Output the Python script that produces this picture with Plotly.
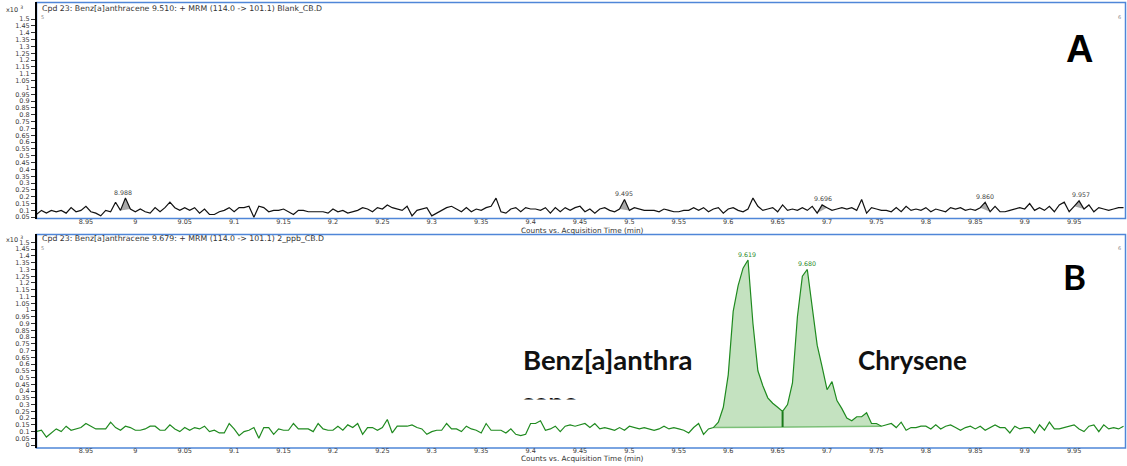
import numpy as np
import plotly.graph_objects as go

W, H = 1127, 466

# ---------------- data ----------------
time_start = 8.900
time_step = 0.005

# Panel A: Blank_CB.D  (counts x10^3)
counts_blank = [
    0.07, 0.10, 0.08, 0.10, 0.09, 0.10, 0.08, 0.12, 0.09, 0.10,
    0.13, 0.09, 0.08, 0.06, 0.10, 0.09, 0.16, 0.10, 0.19, 0.11,
    0.09, 0.11, 0.09, 0.08, 0.12, 0.09, 0.12, 0.16, 0.12, 0.10,
    0.12, 0.10, 0.12, 0.08, 0.11, 0.07, 0.07, 0.09, 0.10, 0.12,
    0.09, 0.12, 0.12, 0.13, 0.05, 0.13, 0.12, 0.09, 0.10, 0.10,
    0.11, 0.09, 0.07, 0.10, 0.10, 0.09, 0.09, 0.09, 0.09, 0.08,
    0.11, 0.09, 0.10, 0.08, 0.09, 0.10, 0.12, 0.11, 0.09, 0.12,
    0.11, 0.14, 0.12, 0.11, 0.10, 0.13, 0.06, 0.10, 0.11, 0.12,
    0.06, 0.08, 0.10, 0.12, 0.13, 0.11, 0.09, 0.12, 0.09, 0.11,
    0.10, 0.12, 0.13, 0.19, 0.09, 0.08, 0.11, 0.12, 0.09, 0.12,
    0.11, 0.11, 0.10, 0.12, 0.08, 0.12, 0.09, 0.12, 0.10, 0.12,
    0.13, 0.09, 0.11, 0.08, 0.11, 0.12, 0.10, 0.09, 0.11, 0.18,
    0.10, 0.12, 0.11, 0.10, 0.10, 0.10, 0.09, 0.11, 0.10, 0.09,
    0.09, 0.10, 0.10, 0.12, 0.10, 0.12, 0.09, 0.11, 0.12, 0.08,
    0.11, 0.12, 0.10, 0.09, 0.11, 0.19, 0.13, 0.10, 0.11, 0.12,
    0.09, 0.14, 0.10, 0.11, 0.10, 0.12, 0.10, 0.13, 0.08, 0.14,
    0.12, 0.10, 0.11, 0.12, 0.11, 0.12, 0.10, 0.18, 0.08, 0.12,
    0.11, 0.10, 0.10, 0.09, 0.12, 0.09, 0.13, 0.10, 0.11, 0.10,
    0.12, 0.09, 0.11, 0.10, 0.09, 0.12, 0.11, 0.12, 0.10, 0.11,
    0.10, 0.12, 0.16, 0.09, 0.13, 0.09, 0.09, 0.10, 0.11, 0.12,
    0.11, 0.15, 0.10, 0.12, 0.10, 0.13, 0.09, 0.14, 0.16, 0.09,
    0.13, 0.17, 0.11, 0.14, 0.09, 0.12, 0.11, 0.10, 0.11, 0.12,
    0.12,
]

# Panel B: 2_ppb_CB.D  (counts x10^3)
counts_2ppb = [
    0.10, 0.11, 0.06, 0.09, 0.12, 0.10, 0.14, 0.11, 0.12, 0.13,
    0.16, 0.14, 0.12, 0.12, 0.12, 0.17, 0.13, 0.11, 0.14, 0.13,
    0.11, 0.11, 0.12, 0.14, 0.14, 0.11, 0.11, 0.15, 0.12, 0.10,
    0.13, 0.11, 0.13, 0.12, 0.14, 0.10, 0.11, 0.09, 0.09, 0.16,
    0.12, 0.07, 0.10, 0.11, 0.13, 0.05, 0.13, 0.13, 0.08, 0.12,
    0.11, 0.11, 0.16, 0.12, 0.12, 0.12, 0.10, 0.16, 0.12, 0.11,
    0.11, 0.14, 0.11, 0.15, 0.13, 0.16, 0.08, 0.13, 0.13, 0.11,
    0.13, 0.19, 0.09, 0.14, 0.14, 0.14, 0.15, 0.13, 0.12, 0.08,
    0.10, 0.11, 0.11, 0.16, 0.12, 0.12, 0.10, 0.14, 0.12, 0.11,
    0.09, 0.16, 0.11, 0.11, 0.11, 0.09, 0.12, 0.08, 0.07, 0.08,
    0.16, 0.16, 0.18, 0.11, 0.12, 0.14, 0.10, 0.14, 0.15, 0.14,
    0.15, 0.16, 0.13, 0.16, 0.12, 0.13, 0.12, 0.11, 0.13, 0.11,
    0.14, 0.13, 0.12, 0.13, 0.12, 0.11, 0.12, 0.14, 0.12, 0.13,
    0.12, 0.11, 0.09, 0.13, 0.16, 0.08, 0.12, 0.13, 0.17, 0.28,
    0.52, 0.99, 1.18, 1.31, 1.37, 0.90, 0.55, 0.44, 0.35, 0.31,
    0.28, 0.25, 0.30, 0.46, 0.95, 1.25, 1.30, 1.00, 0.74, 0.58,
    0.41, 0.47, 0.33, 0.27, 0.20, 0.18, 0.21, 0.21, 0.24, 0.16,
    0.16, 0.14, 0.15, 0.16, 0.13, 0.17, 0.11, 0.13, 0.13, 0.14,
    0.14, 0.12, 0.15, 0.12, 0.14, 0.15, 0.13, 0.11, 0.13, 0.14,
    0.12, 0.14, 0.11, 0.13, 0.15, 0.13, 0.13, 0.09, 0.14, 0.12,
    0.13, 0.13, 0.09, 0.15, 0.11, 0.17, 0.12, 0.12, 0.13, 0.14,
    0.15, 0.12, 0.10, 0.14, 0.15, 0.10, 0.15, 0.12, 0.13, 0.12,
    0.14,
]

peak_times_blank = [8.988, 9.495, 9.696, 9.860, 9.957]
peak_times_2ppb = [9.619, 9.680]
integration_2ppb = [9.585, 9.655, 9.755]   # start, split, end

x_tick_labels = ["8.95", "9", "9.05", "9.1", "9.15", "9.2", "9.25", "9.3", "9.35", "9.4",
                 "9.45", "9.5", "9.55", "9.6", "9.65", "9.7", "9.75", "9.8", "9.85", "9.9", "9.95"]
y_tick_labels_a = ["0.05", "0.1", "0.15", "0.2", "0.25", "0.3", "0.35", "0.4", "0.45", "0.5",
                   "0.55", "0.6", "0.65", "0.7", "0.75", "0.8", "0.85", "0.9", "0.95", "1",
                   "1.05", "1.1", "1.15", "1.2", "1.25", "1.3", "1.35", "1.4", "1.45", "1.5"]
y_tick_labels_b = ["0"] + y_tick_labels_a

title_blank = "Cpd 23: Benz[a]anthracene 9.510: + MRM (114.0 -> 101.1) Blank_CB.D"
title_2ppb = "Cpd 23: Benz[a]anthracene 9.679: + MRM (114.0 -> 101.1) 2_ppb_CB.D"
x_title = "Counts vs. Acquisition Time (min)"
name_first = "Benz[a]anthra"
name_first_cut = "cene"
name_second = "Chrysene"
panel_labels = ["A", "B"]

# ---------------- helpers ----------------
def px(x):
    return x / W


def py(y):
    return 1 - y / H


t_a = time_start + time_step * np.arange(len(counts_blank))
t_b = time_start + time_step * np.arange(len(counts_2ppb))
v_a = np.array(counts_blank)
v_b = np.array(counts_2ppb)


def idx(t):
    return int(round((t - time_start) / time_step))


TICKFONT = dict(family="DejaVu Sans", size=6.5, color="#3a3a3a")
LINE_GREEN = "#1f8a1f"

fig = go.Figure()

# ---- Panel A fills (gray integrated peaks) ----
for tp in peak_times_blank:
    k = idx(tp)
    xs = list(t_a[k - 1:k + 2])
    ys = list(v_a[k - 1:k + 2])
    fig.add_trace(go.Scatter(x=xs + [xs[0]], y=ys + [ys[0]], fill="toself",
                             fillcolor="#a9a9a9", line=dict(width=0), mode="lines",
                             hoverinfo="skip", xaxis="x", yaxis="y"))

fig.add_trace(go.Scatter(x=t_a, y=v_a, mode="lines", line=dict(color="#111111", width=1.2),
                         xaxis="x", yaxis="y"))

# ---- Panel B fill ----
k0, k1, k2 = idx(integration_2ppb[0]), idx(integration_2ppb[1]), idx(integration_2ppb[2])


def base(t):
    return v_b[k0] + (v_b[k2] - v_b[k0]) * (t - t_b[k0]) / (t_b[k2] - t_b[k0])


fx = list(t_b[k0:k2 + 1]) + [t_b[k2], t_b[k0]]
fy = list(v_b[k0:k2 + 1]) + [base(t_b[k2]), base(t_b[k0])]
fig.add_trace(go.Scatter(x=fx, y=fy, fill="toself", fillcolor="#c4e2c0",
                         line=dict(width=0), mode="lines", hoverinfo="skip",
                         xaxis="x2", yaxis="y2"))
fig.add_trace(go.Scatter(x=[t_b[k0], t_b[k2]], y=[base(t_b[k0]), base(t_b[k2])], mode="lines",
                         line=dict(color="#7cc078", width=1.5), xaxis="x2", yaxis="y2"))
fig.add_trace(go.Scatter(x=t_b, y=v_b, mode="lines", line=dict(color=LINE_GREEN, width=1.2),
                         xaxis="x2", yaxis="y2"))
fig.add_trace(go.Scatter(x=[t_b[k1], t_b[k1]], y=[base(t_b[k1]), v_b[k1]], mode="lines",
                         line=dict(color="#1a7a1a", width=2), xaxis="x2", yaxis="y2"))

# ---- clipped second line of the compound label ----
fig.add_trace(go.Scatter(x=[521], y=[407.5], mode="text", text=[f"<b>{name_first_cut}</b>"],
                         textposition="middle right", cliponaxis=True,
                         textfont=dict(family="Lato", size=27, color="#111111"),
                         xaxis="x3", yaxis="y3", hoverinfo="skip"))

x_tick_vals = [float(s) for s in x_tick_labels]
xr = [8.9005, 10.0015]

common_x = dict(range=xr, tickvals=x_tick_vals, ticktext=x_tick_labels, ticks="",
                tickfont=TICKFONT, showgrid=False, zeroline=False, showline=False,
                domain=[px(37), px(1125)])
common_y = dict(showgrid=False, zeroline=False, showline=True, linecolor="#000000",
                linewidth=2, ticks="outside", ticklen=4, tickcolor="#333333", tickwidth=1,
                tickfont=TICKFONT)

fig.update_layout(
    width=W, height=H, margin=dict(l=0, r=0, t=0, b=0),
    paper_bgcolor="white", plot_bgcolor="rgba(0,0,0,0)", showlegend=False,
    xaxis=dict(anchor="free", position=py(218), **common_x),
    yaxis=dict(anchor="x", domain=[py(220), py(2.5)], range=[0.04, 1.622],
               tickvals=[float(s) for s in y_tick_labels_a], ticktext=y_tick_labels_a, **common_y),
    xaxis2=dict(anchor="free", position=py(448.5), **common_x),
    yaxis2=dict(anchor="x2", domain=[py(451), py(236)], range=[-0.022, 1.559],
                tickvals=[float(s) for s in y_tick_labels_b], ticktext=y_tick_labels_b, **common_y),
    xaxis3=dict(anchor="y3", domain=[px(500), px(720)], range=[500, 720], visible=False),
    yaxis3=dict(anchor="x3", domain=[py(402), py(375)], range=[402, 375], visible=False),
)

# frames
FRAME = "#4f86d8"
fig.add_shape(type="rect", xref="paper", yref="paper", x0=px(36.5), x1=px(1125.5),
              y0=py(220), y1=py(2.5), line=dict(color=FRAME, width=1.5), layer="below")
fig.add_shape(type="rect", xref="paper", yref="paper", x0=px(36.5), x1=px(1125.5),
              y0=py(451), y1=py(236), line=dict(color=FRAME, width=1.5), layer="below")

ann = []
# titles and exponent labels
for title, ytop in [(title_blank, 8.5), (title_2ppb, 240.5)]:
    ann.append(dict(text=title, xref="paper", yref="paper", x=px(40), y=py(ytop),
                    xanchor="left", yanchor="middle", showarrow=False,
                    font=dict(family="DejaVu Sans", size=7.8, color="#333333")))
    ann.append(dict(text="x10 <sup>3</sup>", xref="paper", yref="paper", x=px(4), y=py(ytop + 1),
                    xanchor="left", yanchor="middle", showarrow=False,
                    font=dict(family="DejaVu Sans", size=6.5, color="#333333")))
    ann.append(dict(text="5", xref="paper", yref="paper", x=px(39), y=py(ytop + 9),
                    xanchor="left", yanchor="middle", showarrow=False,
                    font=dict(family="DejaVu Sans", size=5, color="#888888")))
    ann.append(dict(text="6", xref="paper", yref="paper", x=px(1123), y=py(ytop + 9),
                    xanchor="right", yanchor="middle", showarrow=False,
                    font=dict(family="DejaVu Sans", size=5, color="#888888")))

for yy in [231.5, 461.5]:
    ann.append(dict(text=x_title, xref="paper", yref="paper", x=px(582), y=py(yy),
                    xanchor="center", yanchor="middle", showarrow=False,
                    font=dict(family="DejaVu Sans", size=7.3, color="#333333")))

# peak labels
for tp in peak_times_blank:
    ann.append(dict(text=f"{tp:.3f}", x=tp, y=v_a[idx(tp)], xref="x", yref="y",
                    yshift=6, showarrow=False,
                    font=dict(family="DejaVu Sans", size=6.3, color="#444444")))
for tp in peak_times_2ppb:
    ann.append(dict(text=f"{tp:.3f}", x=tp, y=v_b[idx(tp)], xref="x2", yref="y2",
                    yshift=6, showarrow=False,
                    font=dict(family="DejaVu Sans", size=6.3, color="#2a8a2a")))

# panel letters
ann.append(dict(text=f"<b>{panel_labels[0]}</b>", xref="paper", yref="paper", x=px(1079), y=py(49),
                xanchor="center", yanchor="middle", showarrow=False,
                font=dict(family="Liberation Sans", size=38, color="#000000")))
ann.append(dict(text=f"<b>{panel_labels[1]}</b>", xref="paper", yref="paper", x=px(1074), y=py(278),
                xanchor="center", yanchor="middle", showarrow=False,
                font=dict(family="Lato", size=35, color="#000000")))
# compound names
ann.append(dict(text=f"<b>{name_first}</b>", xref="paper", yref="paper", x=px(521), y=py(362),
                xanchor="left", yanchor="middle", showarrow=False,
                font=dict(family="Lato", size=27.5, color="#111111")))
ann.append(dict(text=f"<b>{name_second}</b>", xref="paper", yref="paper", x=px(856), y=py(362),
                xanchor="left", yanchor="middle", showarrow=False,
                font=dict(family="Lato", size=26, color="#111111")))

fig.update_layout(annotations=ann)
fig.write_html("out.html", config={"displayModeBar": False},
               post_script="document.body.style.margin='0';document.body.style.overflow='hidden';")
